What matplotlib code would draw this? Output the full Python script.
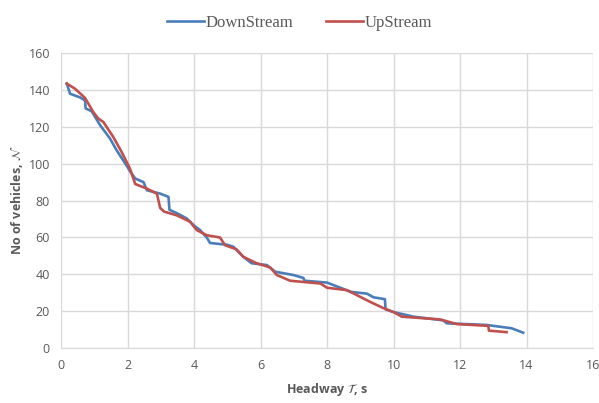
import matplotlib.pyplot as plt

# headway (s) vs cumulative number of vehicles
down_t = [0.17, 0.27, 0.57, 0.72, 0.74, 0.92, 1.17, 1.47, 1.67, 1.97, 2.07, 2.23,
          2.48, 2.58, 2.98, 3.23, 3.26, 3.5, 3.78, 3.98, 4.18, 4.38, 4.48, 5.0,
          5.18, 5.48, 5.73, 6.19, 6.44, 6.99, 7.29, 7.32, 8.0, 8.5, 8.7, 9.2,
          9.4, 9.74, 9.76, 10.0, 10.6, 11.5, 11.6, 12.8, 13.55, 13.9]
down_n = [143.5, 138, 136, 134.4, 130, 128.5, 121, 113.7, 107.3, 99, 96, 92,
          90, 85.6, 83.8, 82, 75, 73, 70.3, 66.7, 64, 60, 57, 56,
          55, 49.5, 46, 45, 41.4, 39.6, 38, 36.5, 35.5, 32, 30.5, 29.5,
          27.5, 26.5, 21, 19.5, 17, 15, 13.4, 12.5, 10.7, 8.3]

up_t = [0.17, 0.42, 0.72, 0.97, 1.12, 1.27, 1.57, 1.82, 2.07, 2.23, 2.58, 2.88,
        2.98, 3.1, 3.48, 3.88, 4.08, 4.38, 4.78, 4.93, 5.28, 5.48, 5.88, 6.29,
        6.49, 6.89, 7.8, 8.0, 8.6, 9.3, 9.7, 10.0, 10.25, 11.4, 11.9, 12.85,
        12.87, 13.4]
up_n = [143.5, 140.7, 135.7, 128, 124.5, 122.7, 114.5, 106.4, 97.4, 89, 86.5, 83.8,
        76, 74, 72, 68.5, 64, 61.2, 60, 55.8, 53.5, 49.5, 46, 43.7,
        39.6, 36.5, 35, 32.7, 31.4, 25, 21.6, 19.5, 17, 15.5, 13, 12,
        9.4, 8.6]

x_ticks = list(range(0, 17, 2))
y_ticks = list(range(0, 161, 20))

grey = "#595959"

fig = plt.figure(figsize=(5.99, 4.03), dpi=100)
ax = fig.add_axes([0.102, 0.1365, 0.888, 0.7315])

ax.plot(down_t, down_n, color="#4A7EBB", lw=1.9, label="DownStream")
ax.plot(up_t, up_n, color="#C0504D", lw=1.9, label="UpStream")

ax.set_xlim(0, 16)
ax.set_ylim(0, 160)
ax.set_xticks(x_ticks)
ax.set_yticks(y_ticks)
ax.grid(True, color="#D9D9D9", lw=1)
ax.set_axisbelow(True)
for side in ["top", "right", "left"]:
    ax.spines[side].set_visible(False)
ax.spines["bottom"].set_color("#D9D9D9")
ax.tick_params(length=0, colors=grey, labelsize=9, pad=8)
for lab in ax.get_xticklabels() + ax.get_yticklabels():
    lab.set_family("Open Sans")

ax.set_xlabel(r"Headway $\mathcal{T}$, s", fontsize=9, fontweight="bold",
              color=grey, family="Open Sans")
ax.set_ylabel(r"No of vehicles, $\mathcal{N}$", fontsize=9, fontweight="bold",
              color=grey, family="Open Sans")
ax.xaxis.set_label_coords(0.5, -0.112)
ax.yaxis.set_label_coords(-0.068, 0.5)

leg = fig.legend(loc="upper center", bbox_to_anchor=(0.5, 1.0), ncol=2,
                 frameon=False, handlelength=2.2, handletextpad=0.1,
                 columnspacing=2.0, prop={"family": "Liberation Serif", "size": 12})
for t in leg.get_texts():
    t.set_color(grey)

fig.savefig("out.png", dpi=100)
